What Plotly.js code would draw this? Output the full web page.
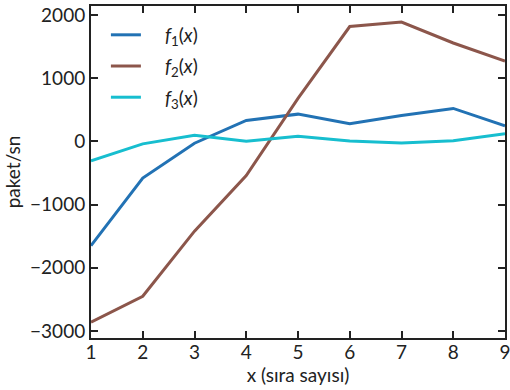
<!DOCTYPE html>
<html>
<head>
<meta charset="utf-8">
<script src="https://cdn.plot.ly/plotly-3.0.1.min.js"></script>
<style>html,body{margin:0;padding:0;background:#fff;}#chart{width:510px;height:390px;}</style>
</head>
<body>
<div id="chart"></div>
<script>
const xValues = [1, 2, 3, 4, 5, 6, 7, 8, 9];
const f1 = [-1650, -580, -30, 330, 430, 280, 410, 520, 245];
const f2 = [-2860, -2450, -1420, -540, 680, 1815, 1885, 1555, 1270];
const f3 = [-310, -40, 95, 0, 80, 5, -25, 10, 120];
const seriesNames = ['<i>f</i><sub>1</sub>(<i>x</i>)', '<i>f</i><sub>2</sub>(<i>x</i>)', '<i>f</i><sub>3</sub>(<i>x</i>)'];
const colors = ['#2272b4', '#8c564b', '#17becf'];
const yTicks = [-3000, -2000, -1000, 0, 1000, 2000];
const yTickLabels = ['\u22123000', '\u22122000', '\u22121000', '0', '1000', '2000'];

const series = [f1, f2, f3];
const data = series.map((ys, i) => ({
  x: xValues, y: ys, type: 'scatter', mode: 'lines',
  name: '\u2002\u2002' + seriesNames[i], legendgroup: 'g' + i,
  line: {color: colors[i], width: 3}
}));

const FONT = 'Lato, "Noto Sans", sans-serif';
const axisCommon = {
  showgrid: false, zeroline: false, showline: true, mirror: 'ticks',
  linecolor: '#222', linewidth: 2, ticks: 'inside', ticklen: 7, tickwidth: 2,
  tickcolor: '#222', ticklabeloverflow: 'allow',
  tickfont: {family: FONT, size: 19, color: '#222'}
};
const layout = {
  width: 510, height: 390,
  margin: {l: 91, r: 5, t: 6, b: 52},
  paper_bgcolor: '#fff', plot_bgcolor: '#fff',
  font: {family: FONT, color: '#222'},
  showlegend: true,
  legend: {x: 0.036, y: 0.97, xanchor: 'left', yanchor: 'top', bgcolor: 'rgba(0,0,0,0)',
    font: {family: FONT, size: 19, color: '#222'}, tracegroupgap: 3.5},
  xaxis: Object.assign({}, axisCommon, {range: [1, 9], dtick: 1, tick0: 1, ticklabelstandoff: -4,
    title: {text: 'x (s\u0131ra say\u0131s\u0131)', font: {family: FONT, size: 19, color: '#222'}, standoff: 0}}),
  yaxis: Object.assign({}, axisCommon, {range: [-3110, 2140], tickvals: yTicks, ticktext: yTickLabels,
    title: {text: 'paket/sn', font: {family: FONT, size: 19, color: '#222'}, standoff: 4}})
};
Plotly.newPlot('chart', data, layout, {displayModeBar: false, staticPlot: true});
</script>
</body>
</html>
